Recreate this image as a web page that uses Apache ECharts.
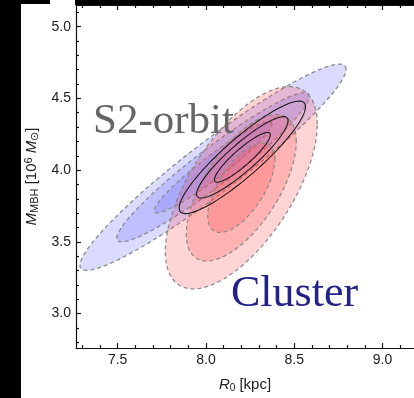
<!DOCTYPE html>
<html>
<head>
<meta charset="utf-8">
<script src="https://cdn.jsdelivr.net/npm/echarts@6/dist/echarts.min.js"></script>
<style>
html,body{margin:0;padding:0;background:#fff;}
#c{width:414px;height:398px;}
</style>
</head>
<body>
<div id="c"></div>
<script>
// ---- data ----
const xRange = [7.264, 9.178];
const yRange = [2.76, 5.151];
const xMajorTicks = [7.5, 8.0, 8.5, 9.0];
const xMinorTicks = [7.3, 7.4, 7.6, 7.7, 7.8, 7.9, 8.1, 8.2, 8.3, 8.4, 8.6, 8.7, 8.8, 8.9, 9.1];
const yMajorTicks = [3.0, 3.5, 4.0, 4.5, 5.0];
const yMinorTicks = [2.8, 2.9, 3.1, 3.2, 3.3, 3.4, 3.6, 3.7, 3.8, 3.9, 4.1, 4.2, 4.3, 4.4, 4.6, 4.7, 4.8, 4.9, 5.1];
// confidence levels (sqrt of chi2, 2 dof): 99.7%, 95.4%, 68.3%
const levels = [3.44, 2.49, 1.52];
// S2-orbit constraint: centre R0, centre M, sigma R0, sigma M, correlation
const s2Center = [8.04, 4.02];
const s2Sigma = [0.219, 0.209];
const s2Rho = 0.95;
// Cluster constraint
const clusterCenter = [8.20, 3.877];
const clusterSigma = [0.125, 0.205];
const clusterRho = 0.63;
// Combined constraint
const combCenter = [8.206, 4.089];
const combSigma = [0.104, 0.114];
const combRho = 0.9;

function ellData(center, sigma, rho) {
  return levels.map(k => [center[0], center[1], sigma[0], sigma[1], rho, k]);
}

function makeRender(fill, stroke, dash, width) {
  return function (params, api) {
    const cx = api.value(0), cy = api.value(1), sx = api.value(2), sy = api.value(3),
      rho = api.value(4), k = api.value(5);
    const pts = [];
    const N = 120;
    const q = Math.sqrt(1 - rho * rho);
    for (let i = 0; i < N; i++) {
      const t = i / N * Math.PI * 2;
      const x = cx + k * sx * Math.cos(t);
      const y = cy + k * sy * (rho * Math.cos(t) + q * Math.sin(t));
      pts.push(api.coord([x, y]));
    }
    return {
      type: 'polygon',
      shape: { points: pts },
      style: { fill: fill, stroke: stroke, lineWidth: width, lineDash: dash }
    };
  };
}

function ellSeries(name, data, fill, stroke, dash, width, z) {
  return {
    type: 'custom', name: name, coordinateSystem: 'cartesian2d',
    xAxisIndex: 0, yAxisIndex: 0, z: z,
    data: data, renderItem: makeRender(fill, stroke, dash, width),
    encode: { x: 0, y: 1 }, silent: true, clip: true
  };
}

const tickFont = { fontFamily: 'Liberation Sans', fontSize: 14, color: '#222' };

function xAx(pos, ticks, len, labels, line) {
  return {
    type: 'value', position: pos, min: xRange[0], max: xRange[1],
    splitLine: { show: false },
    axisLine: { show: line, onZero: false, lineStyle: { color: '#111', width: 1.2 } },
    axisTick: { show: true, inside: true, length: len, customValues: ticks, lineStyle: { color: '#111', width: 1.2 } },
    axisLabel: labels ? Object.assign({ show: true, margin: 5, customValues: ticks, formatter: v => v.toFixed(1) }, tickFont) : { show: false }
  };
}
function yAx(pos, ticks, len, labels, line) {
  return {
    type: 'value', position: pos, min: yRange[0], max: yRange[1],
    splitLine: { show: false },
    axisLine: { show: line, onZero: false, lineStyle: { color: '#111', width: 1.2 } },
    axisTick: { show: true, inside: true, length: len, customValues: ticks, lineStyle: { color: '#111', width: 1.2 } },
    axisLabel: labels ? Object.assign({ show: true, margin: 5, customValues: ticks, formatter: v => v.toFixed(1) }, tickFont) : { show: false }
  };
}

const xAxes = [
  xAx('bottom', xMajorTicks, 5, true, true),
  xAx('bottom', xMinorTicks, 3, false, false),
  xAx('top', xMajorTicks, 5, false, true),
  xAx('top', xMinorTicks, 3, false, false)
];
Object.assign(xAxes[0], {
  name: '{it|R}{sub|0} [kpc]', nameLocation: 'middle', nameGap: 28,
  nameTextStyle: {
    fontFamily: 'Liberation Sans', fontSize: 15, color: '#222', lineHeight: 17,
    rich: {
      it: { fontStyle: 'italic', fontSize: 15, fontFamily: 'Liberation Sans', color: '#222', lineHeight: 17 },
      sub: { fontSize: 10, fontFamily: 'Liberation Sans', color: '#222', verticalAlign: 'bottom', lineHeight: 11 }
    }
  }
});
const yAxes = [
  yAx('left', yMajorTicks, 5, true, true),
  yAx('left', yMinorTicks, 3, false, false)
];
Object.assign(yAxes[0], {
  name: '{it|M}{sub|MBH} [10{sup|6} {it|M}{sub|⊙}]', nameLocation: 'middle', nameGap: 36,
  nameTextStyle: {
    fontFamily: 'Liberation Sans', fontSize: 15, color: '#222', lineHeight: 17,
    rich: {
      it: { fontStyle: 'italic', fontSize: 15, fontFamily: 'Liberation Sans', color: '#222', lineHeight: 17 },
      sub: { fontSize: 11, fontFamily: 'Liberation Sans', color: '#222', verticalAlign: 'bottom', lineHeight: 12 },
      sup: { fontSize: 11, fontFamily: 'Liberation Sans', color: '#222', verticalAlign: 'top', lineHeight: 12 }
    }
  }
});

const chart = echarts.init(document.getElementById('c'), null, { renderer: 'canvas' });
chart.setOption({
  animation: false,
  backgroundColor: '#fff',
  grid: { left: 76, right: 0, top: 5, bottom: 44, containLabel: false },
  xAxis: xAxes,
  yAxis: yAxes,
  series: [
    ellSeries('S2-orbit', ellData(s2Center, s2Sigma, s2Rho), 'rgba(90,90,255,0.22)', '#8c8c8c', [4, 3], 1.3, 2),
    ellSeries('Cluster', ellData(clusterCenter, clusterSigma, clusterRho), 'rgba(255,70,70,0.23)', '#8c8c8c', [4, 3], 1.3, 3),
    ellSeries('Combined', ellData(combCenter, combSigma, combRho), 'none', '#1a1a1a', null, 1.1, 4)
  ],
  graphic: [
    { type: 'rect', shape: { x: 0, y: 0, width: 21, height: 398 }, style: { fill: '#000' }, z: 100 },
    { type: 'rect', shape: { x: 0, y: 0, width: 50, height: 4 }, style: { fill: '#000' }, z: 100 },
    { type: 'rect', shape: { x: 75, y: 0, width: 339, height: 5 }, style: { fill: '#000' }, z: 100 },
    { type: 'text', x: 93, y: 122, z: 100,
      style: { text: 'S2-orbit', fontFamily: 'Liberation Serif', fontSize: 43, fill: '#666', align: 'left', verticalAlign: 'middle' } },
    { type: 'text', x: 231, y: 294, z: 100,
      style: { text: 'Cluster', fontFamily: 'Liberation Serif', fontSize: 44, fill: '#222288', align: 'left', verticalAlign: 'middle' } }
  ]
});
</script>
</body>
</html>
